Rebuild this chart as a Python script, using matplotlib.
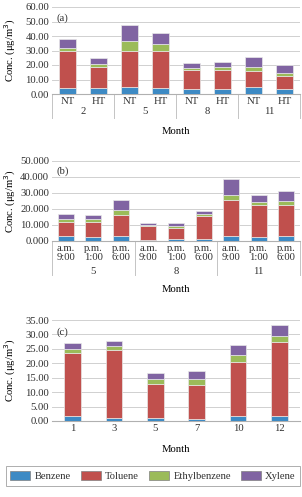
import matplotlib
matplotlib.use("Agg")
import matplotlib.pyplot as plt
from matplotlib.patches import Patch
from matplotlib import ticker

plt.rcParams['font.family'] = ['Liberation Serif', 'DejaVu Serif']
plt.rcParams['font.size'] = 7.7
plt.rcParams['text.color'] = '#303030'
plt.rcParams['xtick.color'] = '#303030'
plt.rcParams['ytick.color'] = '#303030'

# ---- data ----
compounds = ["Benzene", "Toluene", "Ethylbenzene", "Xylene"]
colors = ["#3d8ac4", "#c0504d", "#9bbb59", "#8064a2"]

# (a) NT / HT by month
a_ticks = ["NT", "HT", "NT", "HT", "NT", "HT", "NT", "HT"]
a_groups = ["2", "5", "8", "11"]
a_benzene = [4.1, 4.1, 4.8, 4.3, 3.2, 3.2, 4.6, 3.4]
a_toluene = [25.4, 14.7, 24.7, 25.2, 13.3, 13.3, 11.4, 9.2]
a_ethyl = [2.3, 1.8, 7.1, 5.3, 1.6, 2.3, 2.8, 2.0]
a_xylene = [6.2, 4.4, 11.2, 7.3, 3.4, 3.4, 6.8, 5.1]

# (b) time of day by month
b_ticks = ["a.m.\n9:00", "p.m.\n1:00", "p.m.\n6:00"] * 3
b_groups = ["5", "8", "11"]
b_benzene = [3.3, 2.3, 3.1, 0.6, 1.0, 1.5, 3.3, 2.3, 3.3]
b_toluene = [8.7, 9.7, 13.3, 8.9, 7.3, 13.9, 22.6, 19.9, 18.9]
b_ethyl = [1.9, 1.7, 3.1, 0.7, 1.2, 1.4, 3.1, 2.3, 2.9]
b_xylene = [3.1, 2.7, 6.0, 0.8, 1.9, 1.9, 10.0, 4.1, 6.2]

# (c) by month
c_ticks = ["1", "3", "5", "7", "10", "12"]
c_benzene = [1.9, 1.2, 0.9, 0.8, 1.6, 1.6]
c_toluene = [21.7, 23.5, 11.8, 11.6, 18.9, 25.9]
c_ethyl = [1.2, 1.3, 1.8, 2.1, 2.3, 1.9]
c_xylene = [2.3, 1.7, 2.2, 2.8, 3.4, 3.7]

W, H = 302, 497
fig = plt.figure(figsize=(W / 100, H / 100), dpi=100)


def px_axes(left, top, right, bottom):
    return fig.add_axes([left / W, 1 - bottom / H, (right - left) / W, (bottom - top) / H])


def stacked(ax, series, width, ymax, step, fmt, tag):
    x = list(range(len(series[0])))
    base = [0] * len(x)
    for vals, col in zip(series, colors):
        ax.bar(x, vals, width, bottom=base, color=col, edgecolor="#e8e8e8", linewidth=0.5, zorder=3)
        base = [b + v for b, v in zip(base, vals)]
    ax.set_xlim(-0.5, len(x) - 0.5)
    ax.set_ylim(0, ymax)
    ax.yaxis.set_major_locator(ticker.MultipleLocator(step))
    ax.yaxis.set_major_formatter(ticker.FormatStrFormatter(fmt))
    ax.grid(axis="y", color="#d0d0d0", linewidth=0.7, zorder=0)
    for s in ["top", "right", "left"]:
        ax.spines[s].set_visible(False)
    ax.spines["bottom"].set_color("#b0b0b0")
    ax.tick_params(axis="y", length=0, pad=2)
    ax.tick_params(axis="x", length=0, pad=2)
    ax.set_xticks(x)
    ax.set_ylabel("Conc. (μg/m$^3$)", fontsize=7.7)
    # fixed label position: right edge of the rotated label about 18 px from the figure edge
    ax.yaxis.set_label_coords((18 - 52) / 248, 0.5)
    ax.text(0.02, 0.93, tag, transform=ax.transAxes, va="top", ha="left")
    return x


def groups(ax, labels, per, ylab, ysep):
    n = len(labels) * per
    tr = ax.get_xaxis_transform()
    for i, lab in enumerate(labels):
        ax.text(i * per + (per - 1) / 2, ylab, lab, transform=tr, ha="center", va="center")
    for b in range(0, n + 1, per):
        ax.plot([b - 0.5, b - 0.5], [0, ysep], transform=tr, color="#c4c4c4",
                linewidth=0.7, clip_on=False)


# panel (a)
ax1 = px_axes(52, 7, 300, 94)
stacked(ax1, [a_benzene, a_toluene, a_ethyl, a_xylene], 0.55, 60, 10, "%.2f", "(a)")
ax1.set_xticklabels(a_ticks)
groups(ax1, a_groups, 2, -0.205, -0.28)
ax1.set_xlabel("Month", labelpad=15)

# panel (b)
ax2 = px_axes(52, 161, 300, 241)
stacked(ax2, [b_benzene, b_toluene, b_ethyl, b_xylene], 0.58, 50, 10, "%.3f", "(b)")
ax2.set_xticklabels(b_ticks, linespacing=1.0)
groups(ax2, b_groups, 3, -0.38, -0.43)
ax2.set_xlabel("Month", labelpad=17)

# panel (c)
ax3 = px_axes(52, 320, 300, 421)
stacked(ax3, [c_benzene, c_toluene, c_ethyl, c_xylene], 0.41, 35, 5, "%.2f", "(c)")
ax3.set_xticklabels(c_ticks)
ax3.set_xlabel("Month", labelpad=9)

handles = [Patch(facecolor=c, edgecolor="#808080", linewidth=0.5) for c in colors]
leg = fig.legend(handles, compounds, ncol=4, loc="center",
                 bbox_to_anchor=(153 / W, 1 - 476 / H), frameon=True, fancybox=False,
                 handlelength=1.9, handleheight=1.0, handletextpad=0.4, columnspacing=0.95,
                 borderpad=0.45, fontsize=7.6)
leg.get_frame().set_edgecolor("#999999")
leg.get_frame().set_linewidth(0.7)

fig.savefig("out.png", dpi=100)
